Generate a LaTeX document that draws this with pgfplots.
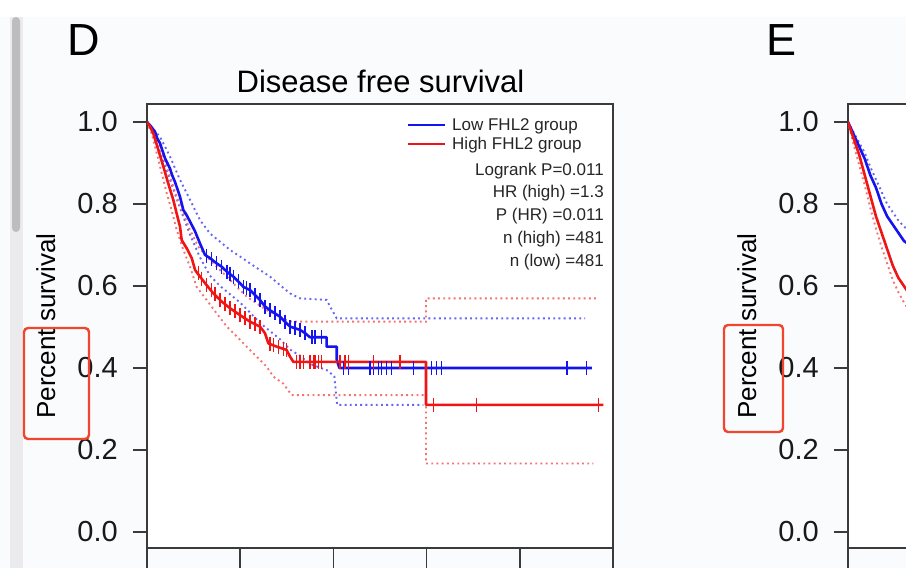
\documentclass[border=0pt]{standalone}
\usepackage{pgfplots}
\pgfplotsset{compat=1.18}
\usepackage{pgfplotstable}
\usepackage{fontspec}
\setmainfont{Liberation Sans}

\definecolor{bg}{HTML}{F9FBFD}
\definecolor{axgray}{HTML}{3A3A3A}
\definecolor{kmblue}{HTML}{1414F0}
\definecolor{kmred}{HTML}{F01414}
\definecolor{annot}{HTML}{F2452E}
\definecolor{trackgray}{HTML}{EBEBED}
\definecolor{thumbgray}{HTML}{BDBDBF}

% Low FHL2 group (months, survival)
\pgfplotstableread{
x y
0 1.0
2 0.99
4.3 0.976
5.5 0.960
7.0 0.948
8.3 0.930
9.7 0.911
12.3 0.887
13.5 0.870
15.0 0.854
17.7 0.818
19.5 0.785
21.0 0.775
23.1 0.757
25.8 0.733
28.4 0.704
31.1 0.676
33.8 0.668
37.4 0.655
40.1 0.647
42.8 0.635
46.3 0.623
49.0 0.611
51.7 0.598
55.3 0.590
58.0 0.578
60.6 0.566
63.3 0.550
66.0 0.541
68.7 0.533
71.4 0.525
74.0 0.513
76.7 0.501
79.4 0.497
82.1 0.493
84.8 0.485
87.4 0.475
96.4 0.475
96.4 0.452
101.8 0.452
101.8 0.420
103.2 0.400
238.6 0.400
}\lowsurv

\pgfplotstableread{
x y
32.0 0.674
34.7 0.666
37.4 0.655
40.1 0.647
42.8 0.635
44.5 0.630
46.3 0.623
49.0 0.611
51.7 0.598
53.5 0.594
55.3 0.590
58.0 0.578
60.6 0.566
63.3 0.550
66.0 0.541
68.7 0.533
71.4 0.525
74.0 0.513
76.7 0.501
79.4 0.497
82.1 0.493
84.8 0.485
88.5 0.475
90.1 0.475
93.7 0.475
105.3 0.40
108.0 0.40
119.6 0.40
121.4 0.40
124.1 0.40
125.9 0.40
128.6 0.40
131.3 0.40
142.9 0.40
152.7 0.40
155.4 0.40
158.1 0.40
225.2 0.40
235.9 0.40
}\lowcens

\pgfplotstableread{
x y
0 1.0
3.4 0.982
7.0 0.964
12.3 0.916
17.7 0.859
23.1 0.810
28.4 0.761
33.8 0.728
39.2 0.708
44.5 0.688
49.9 0.672
55.3 0.655
60.6 0.639
66.0 0.623
71.4 0.602
76.7 0.582
82.1 0.570
96.4 0.566
98.2 0.550
101.8 0.521
235.0 0.521
}\lowup

\pgfplotstableread{
x y
0 1.0
3.4 0.965
7.0 0.925
12.3 0.860
17.7 0.790
23.1 0.725
28.4 0.670
33.8 0.625
39.2 0.600
44.5 0.580
49.9 0.560
55.3 0.535
60.6 0.510
66.0 0.490
71.4 0.470
76.7 0.445
82.1 0.430
87.4 0.410
96.4 0.395
100.5 0.380
102.0 0.310
148.3 0.310
}\lowlo

% High FHL2 group (months, survival)
\pgfplotstableread{
x y
0 1.0
1.5 0.99
3.4 0.972
6.1 0.932
8.8 0.891
11.4 0.850
14.1 0.810
15.9 0.777
17.7 0.745
18.6 0.712
21.3 0.692
24.0 0.668
25.8 0.639
28.4 0.623
32.0 0.602
35.6 0.582
40.1 0.562
44.5 0.546
49.9 0.529
55.3 0.513
60.6 0.501
63.3 0.485
65.1 0.460
69.6 0.452
74.9 0.444
76.7 0.428
78.5 0.415
149.7 0.415
149.7 0.310
244.8 0.310
}\highsurv

\pgfplotstableread{
x y
27.5 0.632
29.2 0.618
32.0 0.602
34.7 0.590
36.5 0.580
39.2 0.566
41.9 0.556
44.5 0.546
47.2 0.538
49.9 0.529
52.6 0.521
55.3 0.513
58.0 0.507
60.6 0.501
66.0 0.458
67.8 0.455
70.5 0.451
73.1 0.447
74.9 0.444
80.3 0.415
82.1 0.415
83.9 0.415
87.4 0.415
89.2 0.415
90.1 0.415
91.9 0.415
93.7 0.415
103.5 0.415
106.2 0.415
108.0 0.415
121.4 0.415
135.8 0.415
153.6 0.310
176.9 0.310
242.1 0.310
}\highcens

\pgfplotstableread{
x y
0 1.0
5.2 0.964
8.8 0.916
12.3 0.867
15.9 0.818
19.5 0.777
23.1 0.737
27.5 0.696
32.0 0.672
37.4 0.647
42.8 0.623
48.1 0.598
53.5 0.574
58.8 0.558
64.2 0.541
69.6 0.529
74.9 0.517
77.6 0.513
149.7 0.513
149.7 0.570
241.3 0.570
}\highup

\pgfplotstableread{
x y
0 1.0
2.5 0.972
5.2 0.924
7.9 0.875
10.6 0.826
13.2 0.785
15.9 0.737
19.5 0.688
23.1 0.647
26.6 0.598
32.0 0.566
37.4 0.533
42.8 0.501
48.1 0.477
53.5 0.452
58.8 0.428
64.2 0.403
67.8 0.379
73.1 0.362
77.6 0.334
149.7 0.334
149.7 0.167
239.5 0.167
}\highlo

% panel E, first months only (the rest is cut off)
\pgfplotstableread{
x y
0 1.0
3 0.97
6 0.94
9 0.91
12 0.87
15 0.84
18 0.80
21 0.77
24 0.75
27 0.73
30 0.71
33 0.70
}\elow
\pgfplotstableread{
x y
0 1.0
3 0.975
6 0.95
9 0.925
12 0.89
15 0.86
18 0.83
21 0.80
24 0.78
27 0.76
30 0.745
33 0.735
}\elowup
\pgfplotstableread{
x y
0 1.0
3 0.96
6 0.92
9 0.87
12 0.82
15 0.77
18 0.73
21 0.69
24 0.65
27 0.62
30 0.60
33 0.58
}\ehigh
\pgfplotstableread{
x y
0 1.0
3 0.945
6 0.895
9 0.845
12 0.79
15 0.74
18 0.695
21 0.655
24 0.615
27 0.585
30 0.56
33 0.54
}\ehighlo

\pgfplotsset{
  kmaxis/.style={
    scale only axis, width=466pt, height=444pt,
    xmin=0, xmax=250, ymin=-0.039, ymax=1.0439,
    axis line style={axgray, line width=1.6pt},
    tick style={axgray, line width=1.6pt},
    tick align=outside, major tick length=14pt,
    xtick={0,50,100,150,200,250}, xticklabels={},
    xtick style={/pgfplots/major tick length=24pt},
    ytick={0,0.2,0.4,0.6,0.8,1.0},
    yticklabels={0.0,0.2,0.4,0.6,0.8,1.0},
    yticklabel style={font=\fontsize{29}{34}\selectfont, anchor=east, inner sep=0pt, xshift=-15pt, text=black!90},
    xtick pos=bottom, ytick pos=left,
    axis background/.style={fill=white},
  },
  km/.style={sharp plot, line width=2.6pt, line join=round},
  ci/.style={sharp plot, line width=1.9pt, dash pattern=on 1.9pt off 3.3pt},
  cens/.style={only marks, mark=|, mark size=7pt, mark options={line width=1.5pt}},
}

\begin{document}
\begin{tikzpicture}[x=1pt, y=1pt]
\useasboundingbox (0,0) rectangle (906,568);
\clip (0,0) rectangle (906,568);
\fill[white] (0,0) rectangle (906,568);
\fill[bg] (0,0) rectangle (906,551);
% scroll bar of the screenshot
\fill[trackgray] (10,0) rectangle (23,551);
\fill[thumbgray, rounded corners=4pt] (12,336) rectangle (20,551);

% ---- panel D ----
\begin{axis}[kmaxis, at={(147pt,20pt)}, anchor=south west]
  \addplot[ci, kmblue!65] table {\lowup};
  \addplot[ci, kmblue!65] table {\lowlo};
  \addplot[ci, kmred!60] table {\highup};
  \addplot[ci, kmred!60] table {\highlo};
  \addplot[km, kmblue] table {\lowsurv};
  \addplot[km, kmred] table {\highsurv};
  \addplot[cens, kmblue] table {\lowcens};
  \addplot[cens, kmred] table {\highcens};
\end{axis}

% ---- panel E (cut off at the right) ----
\begin{axis}[kmaxis, at={(848pt,20pt)}, anchor=south west]
  \addplot[ci, kmblue!65] table {\elowup};
  \addplot[ci, kmred!60] table {\ehighlo};
  \addplot[km, kmblue] table {\elow};
  \addplot[km, kmred] table {\ehigh};
\end{axis}

% titles and labels
\node[anchor=base west, inner sep=0pt, font=\fontsize{45}{50}\selectfont] at (67,512) {D};
\node[anchor=base west, inner sep=0pt, font=\fontsize{45}{50}\selectfont] at (766,512) {E};
\node[anchor=base, inner sep=0pt, font=\fontsize{31}{36}\selectfont] at (380.5,475) {Disease free survival};
\node[anchor=base, rotate=90, inner sep=0pt, font=\fontsize{26}{30}\selectfont] at (55,242) {Percent survival};
\node[anchor=base, rotate=90, inner sep=0pt, font=\fontsize{26}{30}\selectfont] at (756,242) {Percent survival};

% legend and statistics
\draw[kmblue, line width=2.4pt] (408,443) -- (445,443);
\draw[kmred, line width=2.4pt] (408,424) -- (445,424);
\begin{scope}[every node/.style={inner sep=0pt, font=\fontsize{17}{20}\selectfont, text=black!85}]
\node[anchor=base west] at (452,437) {Low FHL2 group};
\node[anchor=base west] at (452,418) {High FHL2 group};
\node[anchor=base east] at (604,392) {Logrank P=0.011};
\node[anchor=base east] at (604,370) {HR (high) =1.3};
\node[anchor=base east] at (604,347) {P (HR) =0.011};
\node[anchor=base east] at (604,324) {n (high) =481};
\node[anchor=base east] at (604,301) {n (low) =481};
\end{scope}

% highlight boxes
\draw[annot, line width=2.4pt, rounded corners=4pt] (24,129) rectangle (89,240);
\draw[annot, line width=2.4pt, rounded corners=4pt] (724,136) rectangle (783,243);
\end{tikzpicture}
\end{document}
